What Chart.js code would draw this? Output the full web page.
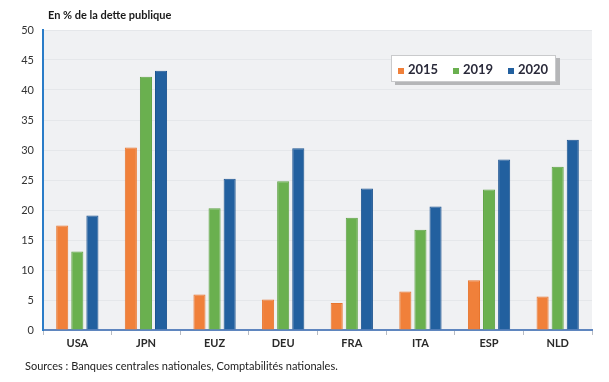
<!DOCTYPE html>
<html>
<head>
<meta charset="utf-8">
<script src="https://cdn.jsdelivr.net/npm/chart.js@4/dist/chart.umd.min.js"></script>
<style>
  html, body { margin: 0; padding: 0; background: #fff; }
  #wrap { width: 609px; height: 382px; position: relative; }
</style>
</head>
<body>
<div id="wrap"><canvas id="chart"></canvas></div>
<script>
'use strict';

// data
const countries = ['USA', 'JPN', 'EUZ', 'DEU', 'FRA', 'ITA', 'ESP', 'NLD']
const years = ['2015', '2019', '2020']
const values2015 = [17.4, 30.4, 5.9, 5.1, 4.5, 6.4, 8.3, 5.6]
const values2019 = [13.1, 42.2, 20.3, 24.8, 18.7, 16.7, 23.4, 27.2]
const values2020 = [19.1, 43.2, 25.2, 30.3, 23.6, 20.6, 28.4, 31.7]
const yTicks = [0, 5, 10, 15, 20, 25, 30, 35, 40, 45, 50]

const colors = ['#f0803a', '#6ab04f', '#22609f']
const borders = ['#e8752e', '#5fa345', '#1b5390']
const font = 'Lato, "Open Sans", sans-serif'

// grey plot background
const plotBackground = {
  id: 'plotBackground',
  beforeDraw: (chart) => {
    const { ctx, chartArea } = chart
    ctx.save()
    ctx.fillStyle = '#f0f1f3'
    ctx.fillRect(chartArea.left, chartArea.top, chartArea.right - chartArea.left, chartArea.bottom - chartArea.top)
    ctx.restore()
  }
}

// title, source line and the boxed legend
const extraText = {
  id: 'extraText',
  afterDraw: (chart) => {
    const ctx = chart.ctx
    ctx.save()
    ctx.textBaseline = 'middle'
    ctx.fillStyle = '#1a1a1a'
    ctx.font = 'bold 11px ' + font
    ctx.fillText('En % de la dette publique', 48, 15)
    ctx.fillStyle = '#222'
    ctx.font = '11px ' + font
    ctx.fillText('Sources : Banques centrales nationales, Comptabilités nationales.', 25, 366)

    // legend box with shadow
    const bx = 391, by = 55, bw = 165, bh = 27
    ctx.fillStyle = '#b5b6b8'
    ctx.fillRect(bx + 4, by + 3, bw, bh)
    ctx.fillStyle = '#ffffff'
    ctx.fillRect(bx, by, bw, bh)
    ctx.strokeStyle = '#c9cacc'
    ctx.lineWidth = 1
    ctx.strokeRect(bx + 0.5, by + 0.5, bw - 1, bh - 1)

    const items = chart.data.datasets
    const xs = [398, 453, 508]
    ctx.font = 'bold 13px ' + font
    items.forEach((ds, i) => {
      ctx.fillStyle = ds.backgroundColor
      ctx.fillRect(xs[i], 68, 6, 6)
      ctx.fillStyle = '#2a2a3a'
      ctx.fillText(ds.label, xs[i] + 10, 70)
    })
    ctx.restore()
  }
}

const datasets = [values2015, values2019, values2020].map((vals, i) => ({
  label: years[i],
  data: vals,
  backgroundColor: colors[i],
  borderColor: borders[i],
  borderWidth: 1,
  barPercentage: 0.8,
  categoryPercentage: 0.66
}))

new Chart(document.getElementById('chart'), {
  type: 'bar',
  data: { labels: countries, datasets: datasets },
  options: {
    responsive: true,
    maintainAspectRatio: false,
    animation: false,
    layout: { padding: { top: 30, right: 17, bottom: 30, left: 0 } },
    plugins: {
      legend: { display: false },
      tooltip: { enabled: false }
    },
    scales: {
      x: {
        afterFit: (scale) => { scale.height = 22 },
        grid: {
          drawOnChartArea: false,
          drawTicks: true,
          tickLength: 5,
          color: '#b8bcc4'
        },
        border: { display: true, color: '#5f86bf', width: 2 },
        ticks: {
          color: '#2a2a2a',
          padding: 2,
          font: { family: font, size: 11, weight: 'bold' }
        }
      },
      y: {
        min: 0,
        max: 50,
        afterFit: (scale) => { scale.width = 43 },
        afterBuildTicks: (scale) => { scale.ticks = yTicks.map(v => ({ value: v })) },
        grid: { color: '#e5e7ea', drawTicks: false },
        border: { display: true, color: '#2a7cc8', width: 2 },
        ticks: {
          color: '#333',
          padding: 9,
          font: { family: font, size: 11 }
        }
      }
    }
  },
  plugins: [plotBackground, extraText]
})
</script>
</body>
</html>
